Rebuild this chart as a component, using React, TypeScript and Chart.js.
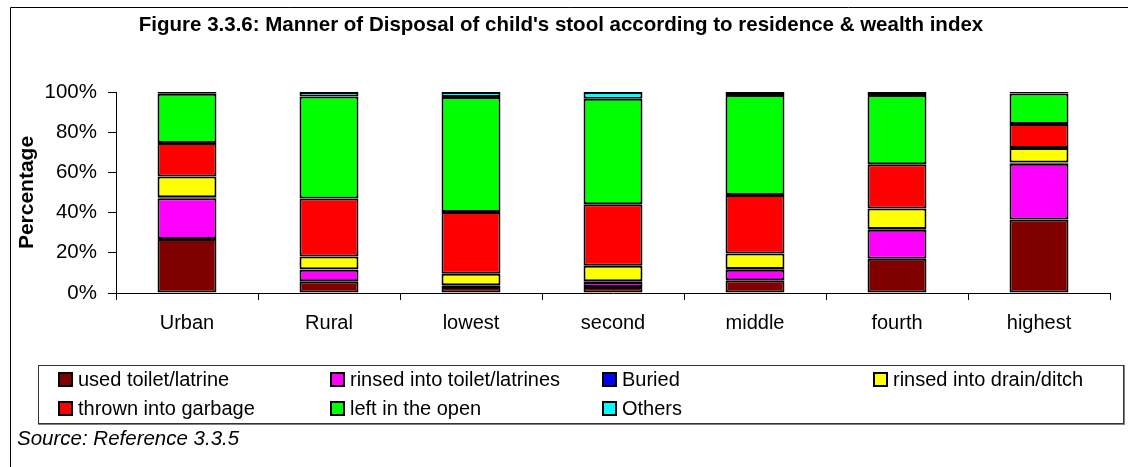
import React, { useEffect, useRef } from "react";
import { Chart, registerables } from "chart.js";

Chart.register(...registerables);

const categories = ["Urban", "Rural", "lowest", "second", "middle", "fourth", "highest"];
const seriesNames = [
  "used toilet/latrine",
  "rinsed into toilet/latrines",
  "Buried",
  "rinsed into drain/ditch",
  "thrown into garbage",
  "left in the open",
  "Others",
];
const usedToilet = [26.9, 5.8, 3.0, 3.0, 6.3, 17.1, 36.6];
const rinsedToilet = [20.2, 5.8, 0.5, 2.5, 5.3, 14.4, 27.7];
const buried = [0.5, 0.2, 0.3, 0.3, 0.3, 0.3, 0.6];
const rinsedDrain = [10.4, 6.3, 5.8, 7.8, 7.8, 10.3, 7.3];
const garbage = [16.6, 28.9, 30.7, 30.5, 29.0, 21.9, 11.9];
const openAir = [24.5, 50.7, 57.2, 52.6, 49.8, 34.5, 15.1];
const others = [0.9, 2.3, 2.5, 3.3, 1.5, 1.5, 0.8];
const seriesColors = ["#800000", "#FF00FF", "#0000FF", "#FFFF00", "#FF0000", "#00FF00", "#00FFFF"];
const yTicks = [0, 20, 40, 60, 80, 100];
const titleText = "Figure 3.3.6: Manner of Disposal of child's stool according to residence & wealth index";
const yTitle = "Percentage";
const sourceText = "Source: Reference 3.3.5";

const FONT = "'Liberation Sans', Arial, sans-serif";

const framePlugin = {
  id: "framePlugin",
  afterDraw(chart: any) {
    const ctx = chart.ctx;
    ctx.save();
    // outer frame
    ctx.strokeStyle = "#000";
    ctx.lineWidth = 1;
    ctx.beginPath();
    ctx.moveTo(10.5, 467);
    ctx.lineTo(10.5, 7.5);
    ctx.lineTo(1128, 7.5);
    ctx.stroke();
    // title
    ctx.fillStyle = "#000";
    ctx.font = "bold 20.5px " + FONT;
    ctx.textAlign = "center";
    ctx.textBaseline = "middle";
    ctx.fillText(titleText, 561, 25);
    // legend box
    const bx = 38, by = 365, bw = 1085, bh = 58;
    ctx.strokeStyle = "#808080";
    ctx.lineWidth = 2;
    ctx.beginPath();
    ctx.moveTo(bx + bw + 1, by);
    ctx.lineTo(bx + bw + 1, by + bh + 1);
    ctx.lineTo(bx, by + bh + 1);
    ctx.stroke();
    ctx.strokeStyle = "#333";
    ctx.lineWidth = 1;
    ctx.strokeRect(bx + 0.5, by + 0.5, bw, bh);
    // legend items
    const colX = [58, 330, 602, 873];
    const rowY = [379, 408];
    ctx.font = "20px " + FONT;
    ctx.textAlign = "left";
    chart.data.datasets.forEach((ds: any, i: number) => {
      const col = i % 4;
      const row = Math.floor(i / 4);
      const x = colX[col];
      const y = rowY[row];
      ctx.fillStyle = "#000";
      ctx.fillRect(x, y - 7, 15, 15);
      ctx.fillStyle = ds.backgroundColor;
      ctx.fillRect(x + 2, y - 5, 11, 11);
      ctx.fillStyle = "#000";
      ctx.fillText(ds.label, x + 20, y + 1);
    });
    // source
    ctx.font = "italic 20.5px " + FONT;
    ctx.fillText(sourceText, 17, 439);
    ctx.restore();
  },
};

export default function App() {
  const ref = useRef<HTMLCanvasElement | null>(null);
  useEffect(() => {
    document.body.style.margin = "0";
    const seriesData = [usedToilet, rinsedToilet, buried, rinsedDrain, garbage, openAir, others];
    const chart = new Chart(ref.current as HTMLCanvasElement, {
      type: "bar",
      data: {
        labels: categories,
        datasets: seriesNames.map((name, i) => ({
          label: name,
          data: seriesData[i],
          backgroundColor: seriesColors[i],
          borderColor: "#000",
          borderWidth: 2,
          borderSkipped: false,
          categoryPercentage: 1,
          barPercentage: 0.415,
        })),
      },
      options: {
        responsive: false,
        animation: false,
        devicePixelRatio: 1,
        layout: { padding: { top: 92, left: 0, right: 18, bottom: 0 } },
        plugins: {
          legend: { display: false },
          title: { display: false },
          tooltip: { enabled: false },
        },
        scales: {
          x: {
            stacked: true,
            grid: {
              display: true,
              drawOnChartArea: false,
              drawTicks: true,
              tickLength: 7,
              offset: true,
              color: "#000",
            },
            border: { display: true, color: "#000", width: 1 },
            ticks: {
              color: "#000",
              font: { family: FONT, size: 20 },
              padding: 11,
              maxRotation: 0,
              autoSkip: false,
            },
            afterFit: (s: any) => {
              s.height = 174;
            },
          },
          y: {
            stacked: true,
            min: 0,
            max: 100,
            afterBuildTicks: (s: any) => {
              s.ticks = yTicks.map((v) => ({ value: v }));
            },
            grid: {
              display: true,
              drawOnChartArea: false,
              drawTicks: true,
              tickLength: 8,
              color: "#000",
            },
            border: { display: true, color: "#000", width: 1 },
            ticks: {
              color: "#000",
              font: { family: FONT, size: 20.5 },
              padding: 11,
              callback: (v: any) => v + "%",
            },
            title: {
              display: true,
              text: yTitle,
              color: "#000",
              font: { family: FONT, size: 21, weight: "bold" },
              padding: { top: 15, bottom: 0 },
            },
            afterFit: (s: any) => {
              s.width = 116;
            },
          },
        },
      },
      plugins: [framePlugin],
    });
    return () => chart.destroy();
  }, []);
  return <canvas ref={ref} width={1128} height={467} style={{ display: "block" }} />;
}
